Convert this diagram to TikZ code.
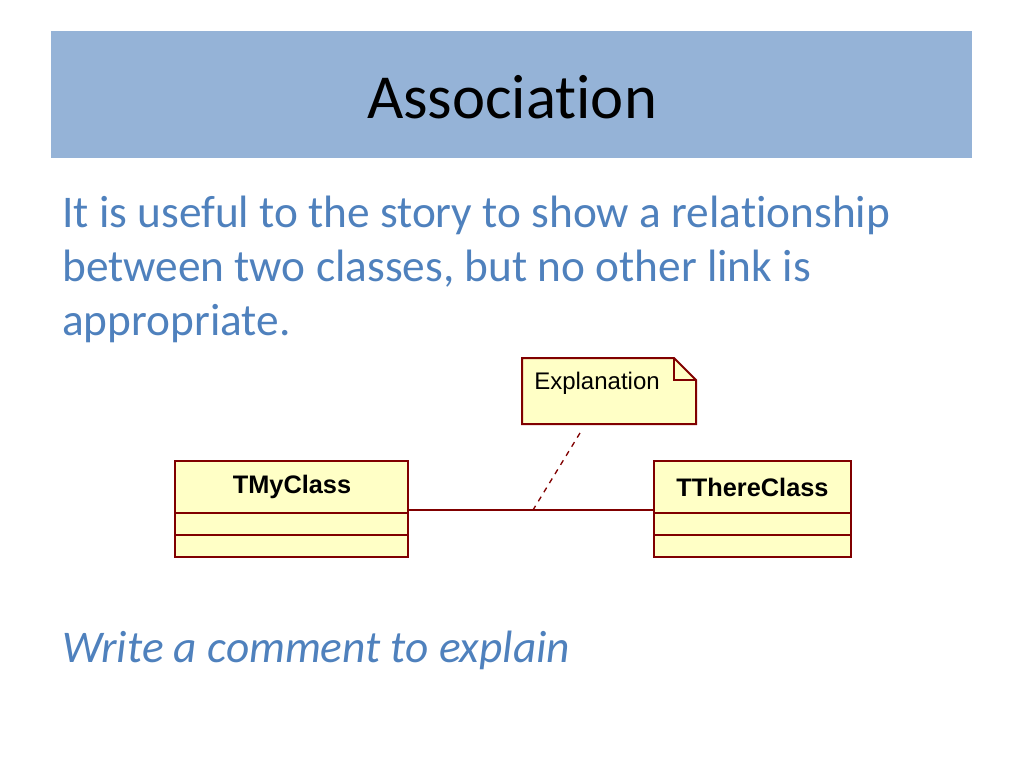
\documentclass[tikz,border=0pt]{standalone}
\usepackage{fontspec}
\setmainfont[Ligatures=NoCommon]{Carlito}
\newfontfamily\umlfont{Liberation Sans}
\usetikzlibrary{positioning}
\definecolor{bandblue}{HTML}{95B3D7}
\definecolor{textblue}{HTML}{4F81BD}
\definecolor{umlred}{HTML}{800000}
\definecolor{umlfill}{HTML}{FFFFC6}
\tikzset{
  umlbox/.style={draw=umlred,fill=umlfill,line width=1.5pt},
  umltext/.style={font=\umlfont\bfseries\fontsize{19}{22}\selectfont,inner sep=0pt},
  bodytext/.style={text=textblue,anchor=base west,inner sep=0pt,font=\fontsize{34}{40}\selectfont}
}
\begin{document}
\begin{tikzpicture}[x=0.75pt,y=-0.75pt]
    \useasboundingbox (0,0) rectangle (1024,768);
    \fill[bandblue] (51,31) rectangle (972,158);
    \node[font=\fontsize{47}{52}\selectfont] (title) at (512,97) {Association};

    \node[bodytext] (line1) at (62,227) {It is useful to the story to show a relationship};
    \node[bodytext] (line2) at (62,281) {between two classes, but no other link is};
    \node[bodytext] (line3) at (62,335) {appropriate.};
    \node[bodytext,font=\fontsize{34}{40}\selectfont\itshape] (hint) at (62,662) {Write a comment to explain};

    % classes
    \draw[umlbox] (175,461) rectangle (408,557);
    \draw[umlred,line width=1.5pt] (175,513) -- (408,513) (175,535) -- (408,535);
    \node[umltext] (mine) at (292,487) {TMyClass};
    \draw[umlbox] (654,461) rectangle (851,557);
    \draw[umlred,line width=1.5pt] (654,513) -- (851,513) (654,535) -- (851,535);
    \node[umltext] (there) at (752.5,487) {TThereClass};

    % note
    \draw[umlbox,line join=miter] (522,358) -- (674,358) -- (696,380) -- (696,424) -- (522,424) -- cycle;
    \draw[umlred,line width=1pt] (674,358) -- (674,380) -- (696,380);
    \node[umltext,font=\umlfont\fontsize{18}{21}\selectfont] (note) at (597,383) {Explanation};

    % links
    \coordinate (left) at (408,510);
    \coordinate (right) at (654,510);
    \coordinate (mid) at (533,510);
    \coordinate (tip) at (580,433);
    \draw[umlred,line width=1.5pt] (left) -- (right);
    \draw[umlred,line width=1pt,dash pattern=on 4pt off 4pt] (tip) -- (mid);
\end{tikzpicture}
\end{document}
